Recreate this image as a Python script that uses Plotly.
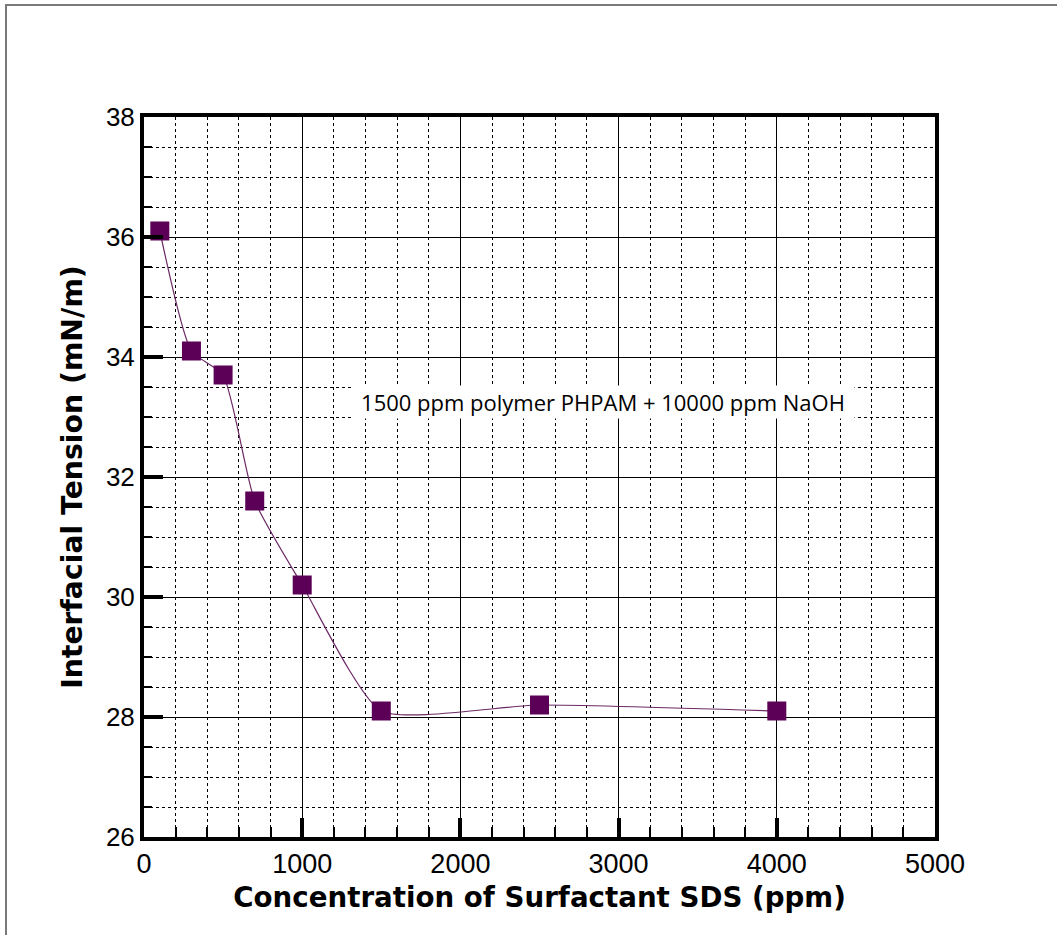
import plotly.graph_objects as go

# Data
sds_ppm = [100, 300, 500, 700, 1000, 1500, 2500, 4000]
ift_mNm = [36.1, 34.1, 33.7, 31.6, 30.2, 28.1, 28.2, 28.1]

x_ticks = [0, 1000, 2000, 3000, 4000, 5000]
y_ticks = [26, 28, 30, 32, 34, 36, 38]

x_title = "Concentration of Surfactant SDS (ppm)"
y_title = "Interfacial Tension (mN/m)"
note_text = "1500 ppm polymer PHPAM + 10000 ppm NaOH"

W, H = 1057, 935
L, R, T, B = 144, 122, 117, 98
PW, PH = W - L - R, H - T - B

TICKFONT = "Liberation Sans, Arial, sans-serif"
TITLEFONT = "DejaVu Sans, Open Sans, sans-serif"
NOTEFONT = "Open Sans, Liberation Sans, sans-serif"
purple = "#5c0057"

fig = go.Figure()
fig.add_trace(go.Scatter(
    x=sds_ppm, y=ift_mNm, mode="lines+markers",
    line=dict(color="#6b2a66", width=1.2, shape="spline", smoothing=0.55),
    marker=dict(symbol="square", size=19, color=purple),
    showlegend=False,
))

axis_common = dict(
    showline=True, linecolor="black", linewidth=4, mirror=True,
    ticks="inside", tickcolor="black", tickwidth=4, ticklen=19,
    showgrid=True, gridcolor="black", gridwidth=1,
    zeroline=False,
)

fig.update_xaxes(
    **axis_common,
    range=[0, 5000], tickvals=x_ticks,
    tickfont=dict(family=TICKFONT, size=27, color="black"),
    minor=dict(dtick=200, ticks="inside", ticklen=10, tickwidth=2, tickcolor="black",
               showgrid=True, gridcolor="black", gridwidth=1, griddash="dot"),
    title=dict(text=x_title, font=dict(family=TITLEFONT, size=27.7, color="black", weight="bold"),
               standoff=10),
)
fig.update_yaxes(
    **axis_common,
    range=[26, 38], tickvals=y_ticks,
    tickfont=dict(family=TICKFONT, size=26, color="black"),
    minor=dict(dtick=0.5, ticks="inside", ticklen=8, tickwidth=2, tickcolor="black",
               showgrid=True, gridcolor="black", gridwidth=1, griddash="dot"),
    title=dict(text=y_title, font=dict(family=TITLEFONT, size=28.3, color="black", weight="bold"),
               standoff=16),
)

fig.add_annotation(
    x=2900, y=33.25, xref="x", yref="y", text=note_text, showarrow=False,
    font=dict(family=NOTEFONT, size=22, color="black", weight=500),
    bgcolor="white", width=500, height=30,
)

# outer frame
fig.add_shape(
    type="rect", xref="paper", yref="paper", layer="above",
    x0=(6 - L) / PW, x1=(W + 20 - L) / PW,
    y0=(T + PH - (H + 20)) / PH, y1=(T + PH - 5) / PH,
    line=dict(color="#7a7a7a", width=2), fillcolor="rgba(0,0,0,0)",
)

fig.update_layout(
    width=W, height=H,
    margin=dict(l=L, r=R, t=T, b=B),
    paper_bgcolor="white", plot_bgcolor="white",
    font=dict(family=TICKFONT),
)

fig.write_html("out.html")
